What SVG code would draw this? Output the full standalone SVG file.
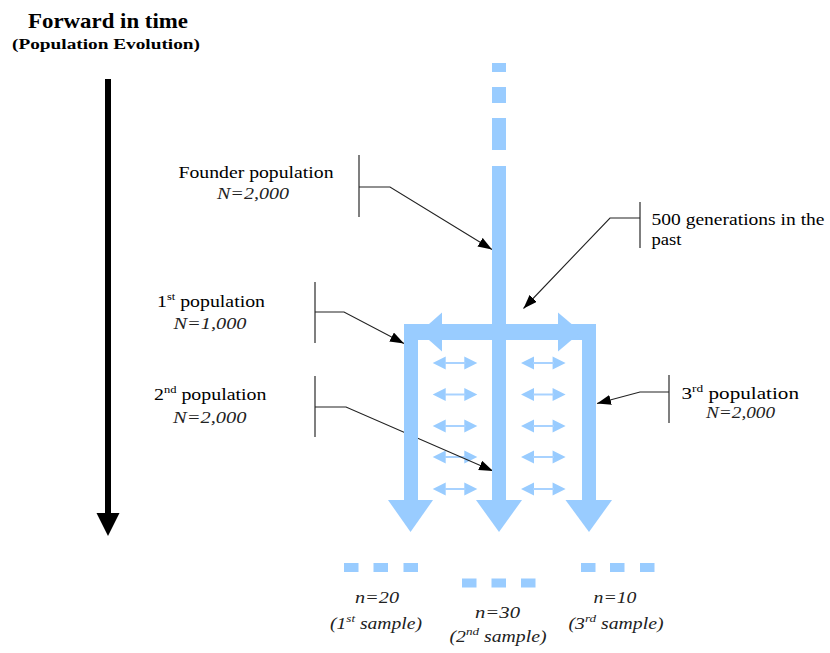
<svg xmlns="http://www.w3.org/2000/svg" width="830" height="653" viewBox="0 0 830 653" font-family="'Liberation Serif','DejaVu Serif','Times New Roman',serif">
<style>
text{font-family:"Liberation Serif","DejaVu Serif","Times New Roman",serif;fill:#000}
.lab{font-size:17.5px}
.it{font-size:16.5px;font-style:italic;fill:#222}
.sup{font-size:11px}
.blue{fill:#99CCFF}
.bracket{stroke:#555;stroke-width:1.5;fill:none}
.lead{stroke:#222;stroke-width:1.1;fill:none;marker-end:url(#ah)}
</style>
<defs>
<marker id="ah" markerUnits="userSpaceOnUse" markerWidth="15" markerHeight="11" refX="14" refY="5" orient="auto">
<path d="M0,0 L14,5 L0,10 Z" fill="#000"/>
</marker>
<g id="dbl">
<path d="M0,0 L13,-6.5 L13,6.5 Z M44.6,0 L31.6,-6.5 L31.6,6.5 Z" fill="#99CCFF"/>
<line x1="12" y1="0" x2="33" y2="0" stroke="#A8D2FF" stroke-width="2"/>
</g>
</defs>
<rect width="830" height="653" fill="#fff"/>

<g id="title">
<text x="28" y="28" font-size="22" font-weight="bold" textLength="160" lengthAdjust="spacingAndGlyphs">Forward in time</text>
<text x="12" y="49" font-size="15" font-weight="bold" textLength="188" lengthAdjust="spacingAndGlyphs">(Population Evolution)</text>
</g>

<g id="time-arrow">
<rect x="105" y="79" width="6" height="436" fill="#000"/>
<path d="M96.5,513 L119.5,513 L108,536 Z" fill="#000"/>
</g>

<g id="migration">
<use href="#dbl" x="432.7" y="363"/>
<use href="#dbl" x="432.7" y="394.5"/>
<use href="#dbl" x="432.7" y="426"/>
<use href="#dbl" x="432.7" y="457"/>
<use href="#dbl" x="432.7" y="489"/>
<use href="#dbl" x="521" y="363"/>
<use href="#dbl" x="521" y="394.5"/>
<use href="#dbl" x="521" y="426"/>
<use href="#dbl" x="521" y="457"/>
<use href="#dbl" x="521" y="489"/>
</g>

<g id="connectors">
<path class="bracket" d="M359,155 V217"/>
<path class="lead" d="M359,187 H390 L492,249.5"/>
<path class="bracket" d="M640,202 V248"/>
<path class="lead" d="M640,218 H610 L523.5,308.5"/>
<path class="bracket" d="M315,282 V343"/>
<path class="lead" d="M315,312 H344 L404,343.5"/>
<path class="bracket" d="M315,376 V437"/>
<path class="lead" d="M315,407 H346 L493,471"/>
<path class="bracket" d="M669,375 V423"/>
<path class="lead" d="M669,392 H640 L597,403.5"/>
</g>

<g id="founder-lineage">
<rect class="blue" x="492" y="63" width="14" height="9"/>
<rect class="blue" x="492" y="87" width="14" height="16"/>
<rect class="blue" x="492" y="118" width="14" height="32"/>
<rect class="blue" x="492" y="166" width="14" height="336"/>
<path class="blue" d="M476,500 L522,500 L499,532 Z"/>
</g>

<g id="split">
<rect class="blue" x="404" y="324" width="192" height="16"/>
<path class="blue" d="M420,332 L442,312.5 L442,351.5 Z"/>
<path class="blue" d="M581,332 L558,312.5 L558,351.5 Z"/>
</g>

<g id="pop1-lineage">
<rect class="blue" x="404" y="324" width="14" height="178"/>
<path class="blue" d="M388,500 L433,500 L410.5,532 Z"/>
</g>

<g id="pop3-lineage">
<rect class="blue" x="582" y="324" width="14" height="178"/>
<path class="blue" d="M565.5,500 L612,500 L589,532 Z"/>
</g>

<g id="samples">
<rect class="blue" x="344" y="563" width="14.5" height="9"/>
<rect class="blue" x="373.5" y="563" width="14.5" height="9"/>
<rect class="blue" x="403.5" y="563" width="14.5" height="9"/>
<rect class="blue" x="462" y="578.5" width="14.5" height="9"/>
<rect class="blue" x="491.5" y="578.5" width="14.5" height="9"/>
<rect class="blue" x="521" y="578.5" width="14.5" height="9"/>
<rect class="blue" x="581" y="563" width="14.5" height="9"/>
<rect class="blue" x="610" y="563" width="14.5" height="9"/>
<rect class="blue" x="640" y="563" width="14.5" height="9"/>
</g>

<g id="founder-label">
<text class="lab" x="178.5" y="178" textLength="155" lengthAdjust="spacingAndGlyphs">Founder population</text>
<text class="it" x="217" y="199" textLength="72" lengthAdjust="spacingAndGlyphs">N=2,000</text>
</g>

<g id="generations-label">
<text class="lab" x="651.5" y="225" textLength="173" lengthAdjust="spacingAndGlyphs">500 generations in the</text>
<text class="lab" x="651.5" y="245" textLength="30" lengthAdjust="spacingAndGlyphs">past</text>
</g>

<g id="pop1-label">
<text class="lab" x="157" y="307" textLength="108" lengthAdjust="spacingAndGlyphs">1<tspan class="sup" dy="-7">st</tspan><tspan dy="7"> population</tspan></text>
<text class="it" x="173.5" y="329" textLength="73" lengthAdjust="spacingAndGlyphs">N=1,000</text>
</g>

<g id="pop2-label">
<text class="lab" x="154" y="400" textLength="112.5" lengthAdjust="spacingAndGlyphs">2<tspan class="sup" dy="-7">nd</tspan><tspan dy="7"> population</tspan></text>
<text class="it" x="173" y="422.5" textLength="73.5" lengthAdjust="spacingAndGlyphs">N=2,000</text>
</g>

<g id="pop3-label">
<text class="lab" x="681.5" y="398.5" textLength="117.5" lengthAdjust="spacingAndGlyphs">3<tspan class="sup" dy="-7">rd</tspan><tspan dy="7"> population</tspan></text>
<text class="it" x="706" y="418" textLength="69" lengthAdjust="spacingAndGlyphs">N=2,000</text>
</g>

<g id="sample1-label">
<text class="it" x="355" y="603" textLength="44" lengthAdjust="spacingAndGlyphs">n=20</text>
<text class="it" x="330" y="629" textLength="92" lengthAdjust="spacingAndGlyphs">(1<tspan class="sup" dy="-7">st</tspan><tspan dy="7"> sample)</tspan></text>
</g>

<g id="sample2-label">
<text class="it" x="475" y="618" textLength="45" lengthAdjust="spacingAndGlyphs">n=30</text>
<text class="it" x="449.5" y="642" textLength="97" lengthAdjust="spacingAndGlyphs">(2<tspan class="sup" dy="-7">nd</tspan><tspan dy="7"> sample)</tspan></text>
</g>

<g id="sample3-label">
<text class="it" x="593.5" y="603" textLength="43" lengthAdjust="spacingAndGlyphs">n=10</text>
<text class="it" x="568.5" y="629" textLength="95" lengthAdjust="spacingAndGlyphs">(3<tspan class="sup" dy="-7">rd</tspan><tspan dy="7"> sample)</tspan></text>
</g>
</svg>
